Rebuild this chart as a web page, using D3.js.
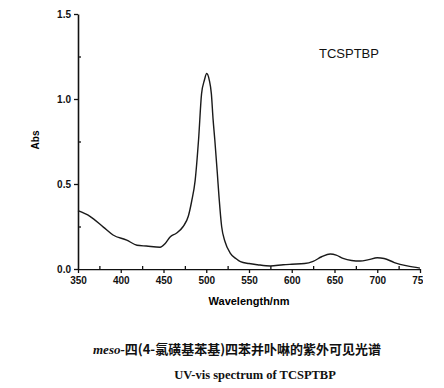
<!DOCTYPE html>
<html>
<head>
<meta charset="utf-8">
<script src="https://cdn.jsdelivr.net/npm/d3@7"></script>
<style>
  body { margin: 0; background: #fff; }
  svg { display: block; }
  .tick text { font-family: "Liberation Sans", Arial, sans-serif; font-weight: bold; font-size: 10px; fill: #111; }
</style>
</head>
<body>
<div id="chart"></div>
<script>
// spectrum
var wavelength = [350, 364, 380, 391, 407, 419, 430, 446, 452, 458, 465, 473, 479, 483, 487, 491,
	494.5, 497.8, 500.5, 503.6, 506, 508, 510, 513, 515, 518, 522, 528, 535, 540, 550, 560, 575,
	590, 600, 615, 625, 635, 645, 652, 660, 670, 680, 690, 700, 708, 720, 735, 750];
var absorbance = [0.343, 0.31, 0.245, 0.2, 0.17, 0.14, 0.135, 0.128, 0.15, 0.19, 0.21, 0.25, 0.31, 0.40, 0.52, 0.76,
	1.03, 1.11, 1.15, 1.11, 1.03, 0.88, 0.76, 0.56, 0.42, 0.25, 0.16, 0.094, 0.06, 0.043, 0.032, 0.025, 0.018,
	0.025, 0.028, 0.032, 0.045, 0.072, 0.088, 0.082, 0.062, 0.05, 0.047, 0.055, 0.066, 0.062, 0.038, 0.018, 0.005];
var xTicks = [350, 400, 450, 500, 550, 600, 650, 700, 750];
var yTicks = [0.0, 0.5, 1.0, 1.5];
var sampleName = 'TCSPTBP';
var captionCn = '四(4-氯磺基苯基)四苯并卟啉的紫外可见光谱';
var captionEn = 'UV-vis spectrum of TCSPTBP';

var svgWidth = 444;
var svgHeight = 388;

var data = wavelength.map(function(w, i) { return { w: w, a: absorbance[i] }; });

var svg = d3.select('#chart').append('svg').attr('width', svgWidth).attr('height', svgHeight);

var x = d3.scaleLinear().domain([350, 750]).range([78, 420]);
var y = d3.scaleLinear().domain([0, 1.5]).range([269, 14]);

svg.append('defs').append('clipPath').attr('id', 'cut')
	.append('rect').attr('x', 0).attr('y', 0).attr('width', 423).attr('height', svgHeight);

// minor ticks, pointing inwards
svg.append('g')
	.attr('transform', 'translate(0,269)')
	.call(d3.axisTop(x).tickValues(d3.range(375, 750, 50)).tickSize(3).tickFormat(''))
	.call(g => g.select('.domain').remove())
	.selectAll('line').attr('stroke', '#111').attr('stroke-width', 1.3);
svg.append('g')
	.attr('transform', 'translate(78,0)')
	.call(d3.axisRight(y).tickValues([0.25, 0.75, 1.25]).tickSize(3).tickFormat(''))
	.call(g => g.select('.domain').remove())
	.selectAll('line').attr('stroke', '#111').attr('stroke-width', 1.3);

// main axes
var xg = svg.append('g')
	.attr('transform', 'translate(0,269)')
	.attr('clip-path', 'url(#cut)')
	.call(d3.axisBottom(x).tickValues(xTicks).tickSize(4).tickSizeOuter(0).tickPadding(4).tickFormat(d3.format('d')));
var yg = svg.append('g')
	.attr('transform', 'translate(78,0)')
	.call(d3.axisLeft(y).tickValues(yTicks).tickSize(4).tickSizeOuter(0).tickPadding(3).tickFormat(d3.format('.1f')));
[xg, yg].forEach(function(g) {
	g.select('.domain').attr('stroke', '#111').attr('stroke-width', 1.6);
	g.selectAll('.tick line').attr('stroke', '#111').attr('stroke-width', 1.3);
});

// spectrum
var line = d3.line().x(d => x(d.w)).y(d => y(d.a)).curve(d3.curveMonotoneX);
svg.append('path')
	.datum(data)
	.attr('d', line)
	.attr('fill', 'none')
	.attr('stroke', '#1a1a1a')
	.attr('stroke-width', 1.4);

// labels
svg.append('text')
	.attr('transform', 'translate(39,140) rotate(-90)')
	.attr('text-anchor', 'middle')
	.attr('font-family', 'Liberation Sans, Arial, sans-serif')
	.attr('font-weight', 'bold')
	.attr('font-size', 10)
	.text('Abs');

svg.append('text')
	.attr('x', 249)
	.attr('y', 305)
	.attr('text-anchor', 'middle')
	.attr('font-family', 'Liberation Sans, Arial, sans-serif')
	.attr('font-weight', 'bold')
	.attr('font-size', 11)
	.text('Wavelength/nm');

svg.append('text')
	.attr('x', 319)
	.attr('y', 58)
	.attr('font-family', 'Liberation Sans, Arial, sans-serif')
	.attr('font-size', 13)
	.attr('fill', '#111')
	.text(sampleName);

// caption
var cn = svg.append('text')
	.attr('x', 93)
	.attr('y', 354)
	.attr('font-weight', 'bold')
	.attr('font-size', 13)
	.attr('fill', '#111');
cn.append('tspan')
	.attr('font-family', 'Liberation Serif, serif')
	.attr('font-style', 'italic')
	.text('meso-');
cn.append('tspan')
	.attr('font-family', 'Noto Sans CJK SC, sans-serif')
	.text(captionCn);

svg.append('text')
	.attr('x', 255)
	.attr('y', 379)
	.attr('text-anchor', 'middle')
	.attr('font-family', 'Liberation Serif, serif')
	.attr('font-weight', 'bold')
	.attr('font-size', 12.5)
	.attr('fill', '#111')
	.text(captionEn);
</script>
</body>
</html>
